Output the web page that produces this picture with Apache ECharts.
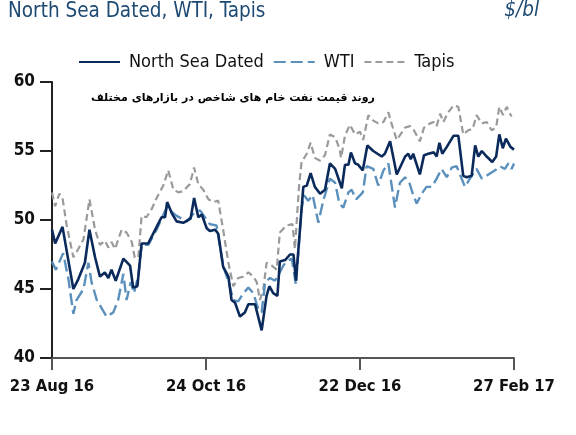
<!DOCTYPE html>
<html><head><meta charset="utf-8">
<script src="https://cdn.jsdelivr.net/npm/echarts@6/dist/echarts.min.js"></script>
<style>html,body{margin:0;padding:0;background:#fff}#c{width:576px;height:435px}</style>
</head><body><div id="c"></div>
<script>
// x = trading-day index from 23 Aug 16 (0) to 27 Feb 17 (132)
const xTickLabels = ['23 Aug 16', '24 Oct 16', '22 Dec 16', '27 Feb 17'];
const seriesNames = ['North Sea Dated', 'WTI', 'Tapis'];

const northSeaDated = [[0,49.3],[0.9,48.3],[3.0,49.5],[6.1,45.0],[7.5,45.7],[9.4,46.9],[10.7,49.3],[12.3,47.3],[13.7,45.9],[15.1,46.2],[16.1,45.8],[17.0,46.4],[18.2,45.6],[20.4,47.2],[22.3,46.7],[23.2,45.1],[24.4,45.2],[25.6,48.3],[27.5,48.3],[29.9,49.5],[31.3,50.2],[32.3,50.2],[32.9,51.3],[34.2,50.5],[35.6,49.9],[37.5,49.8],[38.9,50.0],[39.6,50.1],[40.6,51.6],[41.8,50.2],[42.8,50.4],[44.2,49.4],[45.1,49.2],[46.6,49.3],[47.5,49.0],[48.9,46.6],[50.4,45.9],[51.3,44.2],[52.3,44.0],[53.7,43.0],[55.1,43.3],[56.1,43.9],[58.0,43.9],[59.0,42.9],[59.9,42.0],[61.3,44.5],[62.1,45.2],[63.2,44.7],[64.4,44.5],[65.1,47.0],[66.6,47.1],[68.0,47.5],[69.0,47.5],[69.7,45.6],[71.8,52.4],[72.8,52.5],[73.9,53.4],[75.1,52.4],[76.6,51.9],[78.0,52.2],[79.4,54.1],[80.9,53.7],[82.8,52.3],[83.7,54.0],[84.7,54.0],[85.4,54.9],[86.6,54.1],[87.5,54.0],[88.8,53.6],[90.1,55.4],[91.8,55.0],[94.2,54.6],[95.1,54.8],[96.6,55.7],[98.5,53.3],[100.9,54.6],[101.8,54.8],[102.5,54.4],[103.2,54.8],[105.1,53.3],[106.3,54.7],[107.5,54.8],[109.1,54.9],[109.9,54.6],[110.7,55.6],[111.5,54.8],[112.8,55.3],[114.7,56.1],[116.1,56.1],[117.5,53.2],[118.5,53.1],[119.9,53.2],[120.9,55.4],[121.8,54.6],[122.8,55.0],[124.2,54.6],[125.8,54.2],[126.9,54.6],[127.8,56.2],[128.8,55.2],[129.7,55.9],[131.0,55.3],[132,55.1]];

const wti = [[0,47.0],[1.1,46.4],[3.2,47.6],[4.7,45.7],[6.1,43.2],[7.0,44.2],[9.0,45.0],[10.4,46.9],[11.3,45.5],[12.8,44.2],[14.2,43.6],[15.6,43.0],[17.5,43.3],[18.9,44.2],[20.4,46.1],[21.3,44.2],[22.5,45.5],[23.4,44.7],[24.7,46.0],[25.6,48.2],[27.5,48.2],[29.9,49.3],[31.3,50.1],[32.8,50.9],[35.6,50.3],[38.5,49.9],[40.6,50.5],[42.3,50.7],[45.1,49.7],[47.0,49.6],[48.9,46.7],[50.8,45.2],[51.8,44.2],[53.2,44.1],[54.7,44.7],[56.1,45.1],[57.5,44.7],[59.0,43.5],[59.9,43.3],[60.9,45.5],[62.3,45.8],[63.7,45.6],[64.7,46.0],[66.1,46.7],[67.0,47.0],[68.5,47.2],[69.7,45.3],[71.3,50.8],[72.0,51.8],[73.2,51.4],[74.5,51.8],[76.1,49.8],[77.5,51.4],[79.4,53.0],[80.9,52.7],[82.1,51.2],[83.2,50.9],[84.7,52.0],[85.6,52.2],[86.9,51.5],[88.8,52.0],[89.9,53.9],[91.8,53.7],[93.2,52.5],[94.7,53.6],[96.1,54.1],[98.0,50.9],[99.4,52.7],[100.9,53.1],[102.1,52.7],[103.2,51.8],[104.2,51.2],[105.6,51.9],[107.0,52.4],[108.5,52.4],[109.9,53.0],[111.3,53.7],[112.8,53.1],[114.2,53.8],[115.6,53.9],[118.0,52.4],[119.4,53.0],[121.3,53.7],[122.8,53.0],[124.7,53.3],[126.6,53.6],[128.0,53.9],[129.4,53.7],[130.4,54.1],[131.3,53.7],[132,54.1]];

const tapis = [[0,52.0],[0.9,51.0],[2.1,51.9],[3.0,51.6],[4.2,49.6],[6.1,47.3],[7.5,47.9],[9.0,48.6],[10.7,51.5],[12.3,49.3],[13.7,48.2],[15.1,48.5],[16.1,48.0],[17.0,48.4],[18.0,47.9],[19.9,49.3],[21.3,49.1],[22.8,48.4],[23.7,47.2],[24.7,47.4],[25.6,50.3],[27.0,50.2],[28.5,50.8],[29.9,51.6],[31.8,52.5],[33.2,53.6],[34.7,52.2],[36.1,52.0],[37.5,52.1],[39.4,52.6],[40.6,53.8],[41.8,52.6],[43.2,52.2],[44.7,51.5],[46.1,51.3],[47.5,51.4],[48.9,49.3],[50.4,46.9],[51.8,45.2],[53.2,45.8],[54.7,45.9],[56.1,46.2],[57.5,45.9],[58.5,45.5],[59.4,44.2],[60.4,45.0],[61.3,46.9],[62.8,46.7],[64.2,46.4],[65.1,49.1],[67.0,49.6],[68.7,49.7],[69.4,47.9],[70.6,52.5],[71.3,54.2],[72.8,54.8],[73.9,55.6],[75.1,54.5],[76.6,54.3],[78.0,54.7],[79.4,56.2],[80.9,56.0],[82.1,55.2],[82.6,54.5],[83.7,56.1],[85.1,56.9],[86.6,56.2],[88.0,56.4],[88.9,55.8],[90.4,57.6],[91.8,57.2],[93.2,57.0],[94.7,57.1],[96.1,57.8],[97.0,57.0],[98.5,55.8],[100.9,56.7],[102.3,56.8],[103.2,56.6],[105.1,55.7],[106.3,56.7],[108.0,57.0],[109.1,57.1],[109.9,56.8],[110.9,57.7],[111.8,57.1],[113.2,57.8],[114.7,58.3],[116.1,58.2],[117.5,56.2],[118.9,56.5],[120.2,56.6],[121.3,57.6],[122.8,57.0],[124.2,57.1],[125.6,56.5],[126.9,56.7],[127.8,58.2],[128.9,57.6],[129.9,58.2],[131.3,57.5]];

const FONT = "'DejaVu Sans Condensed', 'Liberation Sans', sans-serif";
const chart = echarts.init(document.getElementById('c'), null, {renderer: 'canvas'});
chart.setOption({
  animation: false,
  backgroundColor: '#fff',
  title: [
    {text: 'North Sea Dated, WTI, Tapis', left: 3, top: -4,
     textStyle: {fontFamily: FONT, fontSize: 20.5, fontWeight: 'normal', color: '#1d4a73'}},
    {text: '$/bl', right: 32, top: -4,
     textStyle: {fontFamily: FONT, fontSize: 20.5, fontWeight: 'normal', fontStyle: 'italic', color: '#1d4a73'}}
  ],
  graphic: [{
    type: 'text', left: 91, top: 93,
    style: {text: 'روند قیمت نفت خام های شاخص در بازارهای مختلف', fill: '#000',
      font: "bold 11px 'DejaVu Sans', sans-serif"}
  }],
  legend: {
    left: 73, top: 48, itemWidth: 41, itemHeight: 16, itemGap: 9,
    data: seriesNames,
    itemStyle: {opacity: 0},
    lineStyle: {width: 2},
    textStyle: {fontFamily: FONT, fontSize: 18, color: '#111', padding: [0, 0, 0, 4]}
  },
  grid: {left: 52, right: 62, top: 82, bottom: 77, containLabel: false},
  xAxis: {
    type: 'value', min: 0, max: 132, interval: 44,
    axisLine: {show: true, lineStyle: {color: '#555', width: 2}},
    axisTick: {show: true, length: 12, lineStyle: {color: '#555', width: 2}},
    splitLine: {show: false},
    axisLabel: {margin: 20, fontFamily: FONT, fontSize: 16.5, fontWeight: 'bold', color: '#111',
      formatter: v => xTickLabels[Math.round(v / 44)] || ''}
  },
  yAxis: {
    type: 'value', min: 40, max: 60, interval: 5,
    axisLine: {show: true, lineStyle: {color: '#222', width: 2}},
    axisTick: {show: true, length: 12, lineStyle: {color: '#222', width: 2}},
    splitLine: {show: false},
    axisLabel: {margin: 17, fontFamily: FONT, fontSize: 17, fontWeight: 'bold', color: '#111'}
  },
  series: [
    {name: seriesNames[0], type: 'line', data: northSeaDated, symbol: 'none', z: 5,
     lineStyle: {color: '#0b2a5c', width: 2.6}, itemStyle: {color: '#0b2a5c'}},
    {name: seriesNames[1], type: 'line', data: wti, symbol: 'none', z: 4,
     lineStyle: {color: '#5b90bd', width: 2.4, type: [12, 5]}, itemStyle: {color: '#5b90bd'}},
    {name: seriesNames[2], type: 'line', data: tapis, symbol: 'none', z: 3,
     lineStyle: {color: '#9a9a9a', width: 2.2, type: [7, 4]}, itemStyle: {color: '#9a9a9a'}}
  ]
});
</script></body></html>
